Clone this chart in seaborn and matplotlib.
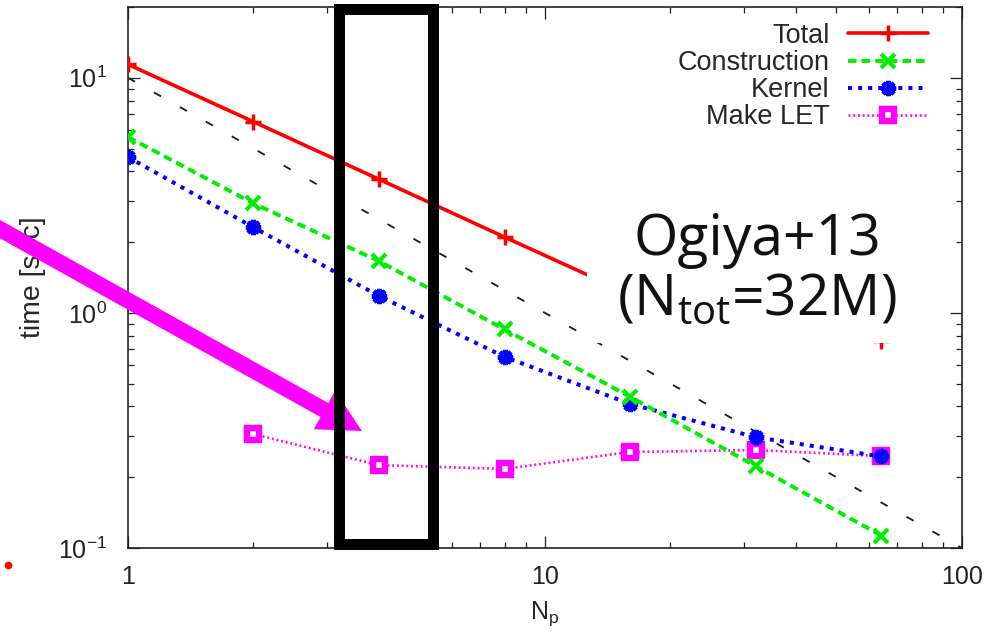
import matplotlib
matplotlib.use("Agg")
import matplotlib.pyplot as plt
import matplotlib.ticker as mticker
from matplotlib.patches import Rectangle, FancyArrow
from matplotlib.lines import Line2D
import seaborn as sns

# number of processes
np_procs = [1, 2, 4, 8, 16, 32, 64]
let_procs = [2, 4, 8, 16, 32, 64]

# wall-clock time per step [sec]
t_total = [11.4, 6.5, 3.7, 2.1, 1.2, 0.84, 0.76]
t_construction = [5.6, 2.92, 1.66, 0.85, 0.44, 0.223, 0.113]
t_kernel = [4.6, 2.31, 1.18, 0.65, 0.41, 0.296, 0.245]
t_make_let = [0.305, 0.225, 0.217, 0.256, 0.261, 0.246]

# ideal strong scaling reference
ideal_procs = [1, 100]
ideal_time = [10, 0.1]

x_ticks = [1, 10, 100]
x_tick_labels = ["1", "10", "100"]

sns.set_style("ticks")
plt.rcParams["font.family"] = ["Liberation Sans", "DejaVu Sans"]
plt.rcParams["mathtext.default"] = "regular"

fig = plt.figure(figsize=(10.02, 6.33), dpi=100)
ax = fig.add_axes([0.1277, 0.1343, 0.8323, 0.8547])

sns.lineplot(x=ideal_procs, y=ideal_time, ax=ax, color="#1a1a1a", lw=1.3,
             linestyle=(0, (4.5, 12.0)), label="_nolegend_", zorder=2)
sns.lineplot(x=let_procs, y=t_make_let, ax=ax, color="#ff00ff", lw=1.9,
             linestyle=(0, (0.7, 1.1)), marker="s", ms=9, mew=4.6, mfc="white",
             mec="#ff00ff", label="Make LET", zorder=3)
sns.lineplot(x=np_procs, y=t_kernel, ax=ax, color="#0000ff", lw=2.9,
             linestyle=(0, (1.0, 1.5)), marker=(8, 2, 0), ms=11, mew=3.2,
             mec="#0000ff", label="Kernel", zorder=4)
sns.lineplot(x=np_procs, y=t_construction, ax=ax, color="#00ee00", lw=2.8,
             linestyle=(0, (2.2, 1.3)), marker="x", ms=10, mew=3,
             mec="#00ee00", label="Construction", zorder=5)
sns.lineplot(x=np_procs, y=t_total, ax=ax, color="#ff0000", lw=2.6,
             linestyle="-", marker="+", ms=11, mew=2.5, mec="#ff0000",
             label="Total", zorder=6)

ax.set_xscale("log")
ax.set_yscale("log")
ax.set_xlim(1, 100)
ax.set_ylim(0.1, 20)
ax.set_xticks(x_ticks)
ax.set_xticklabels(x_tick_labels)
ax.xaxis.set_minor_formatter(mticker.NullFormatter())
ax.yaxis.set_minor_formatter(mticker.NullFormatter())
ax.yaxis.set_major_formatter(mticker.LogFormatterSciNotation())

ax.tick_params(which="both", direction="in", top=True, right=True,
               colors="#222222", labelsize=18)
ax.tick_params(which="major", length=8.6, width=0.9)
ax.tick_params(which="minor", length=4.3, width=0.9)
ax.tick_params(axis="y", pad=15)
ax.tick_params(axis="x", pad=12)
for sp in ax.spines.values():
    sp.set_color("#222222")
    sp.set_linewidth(1.2)

ax.set_xlabel("N$_\\mathregular{p}$", fontsize=18)
ax.set_ylabel("time [sec]", fontsize=20.5)
ax.yaxis.set_label_coords(-0.098, 0.5)
ax.xaxis.set_label_coords(0.5, -0.094)

# legend in gnuplot style: text first, sample on the right
handles, labels = ax.get_legend_handles_labels()
order = ["Total", "Construction", "Kernel", "Make LET"]
hmap = dict(zip(labels, handles))
ax.legend([hmap[k] for k in order], order, loc="upper right",
          bbox_to_anchor=(0.959, 0.9704), frameon=False, markerfirst=False,
          fontsize=19.5, handlelength=2.96, handletextpad=0.67,
          labelspacing=0.04, borderpad=0, borderaxespad=0, numpoints=1)

# annotation overlay: white label box covering part of the plot
fig.add_artist(Rectangle((0.586, (633 - 343) / 633), 0.309, 0.237,
                         transform=fig.transFigure, facecolor="white",
                         edgecolor="none", zorder=2))
fig.text(0.7555, (633 - 255) / 633, "Ogiya+13", ha="center", va="baseline",
         fontsize=41, family=["Open Sans", "DejaVu Sans"], color="#111111", zorder=3)
fig.text(0.7555, (633 - 315) / 633, "(N$_\\mathregular{tot}$=32M)", ha="center",
         va="baseline", fontsize=41, family=["Open Sans", "DejaVu Sans"],
         color="#111111", zorder=3)

# big magenta arrow (in inches from bottom-left)
fig.add_artist(FancyArrow(-0.20, 4.15, 3.82, -2.13, width=0.16, head_width=0.44,
                          head_length=0.43, length_includes_head=True,
                          transform=fig.dpi_scale_trans, color="#ff00ff",
                          ec="none", zorder=4))

# black highlight box around N_p = 4
fig.add_artist(Rectangle((0.253, 0.0074), 0.1127, 0.988, transform=ax.transAxes,
                         fill=False, edgecolor="black", lw=7.9, joinstyle="miter",
                         zorder=5))

# stray red dot at left edge
fig.add_artist(Line2D([0.008], [0.107], transform=fig.transFigure, marker="o",
                      ms=4.5, color="#ff0000", lw=0, zorder=5))

fig.savefig("out.png", dpi=100)
